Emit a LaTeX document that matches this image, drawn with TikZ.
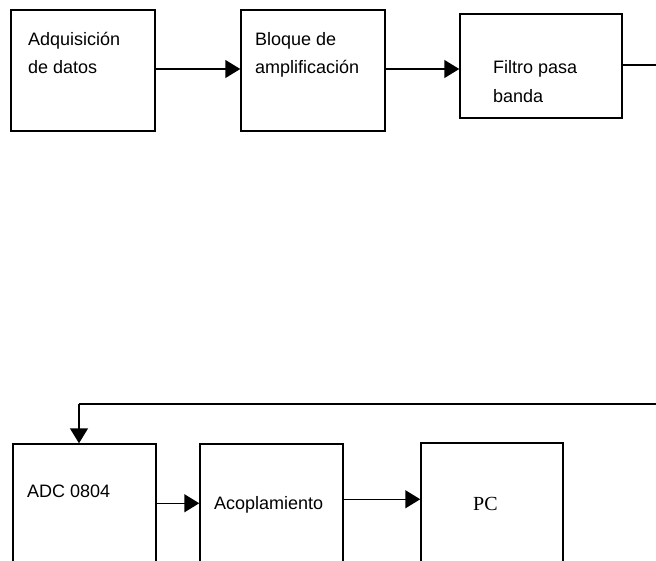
\documentclass[tikz,border=0pt]{standalone}
\usepackage{fontspec}
\setmainfont{Liberation Sans}
\newfontfamily\pcfont{Liberation Serif}
\usetikzlibrary{arrows.meta,calc}
\begin{document}
\begin{tikzpicture}[x=1pt,y=-1pt,
  blk/.style={draw, line width=1.5pt, inner sep=0pt},
  lbl/.style={anchor=base west, inner sep=0pt, font=\fontsize{18}{21}\selectfont},
  arr/.style={line width=1.5pt, -{Triangle[length=15pt,width=18pt]}},
  wire/.style={line width=1.5pt}]
\useasboundingbox (0,0) rectangle (656,560);
\clip (0,0) rectangle (656,560);
% top row
\node[blk, minimum width=144pt, minimum height=121pt] (b1) at (83,70.5) {};
\node[blk, minimum width=144pt, minimum height=121pt] (b2) at (313,70.5) {};
\node[blk, minimum width=162pt, minimum height=104pt] (b3) at (541,66) {};
\node[lbl] (t1a) at (28,45) {Adquisición};
\node[lbl] (t1b) at (28,73) {de datos};
\node[lbl] (t2a) at (255,45) {Bloque de};
\node[lbl] (t2b) at (255,73) {amplificación};
\node[lbl] (t3a) at (493,73) {Filtro pasa};
\node[lbl] (t3b) at (493,102) {banda};
\coordinate (a1) at ($(b1.east)+(0,-1.5)$);
\coordinate (a2) at ($(b2.east)+(0,-1.5)$);
\draw[arr] (a1) -- (a1 -| b2.west);
\draw[arr] (a2) -- (a2 -| b3.west);
\coordinate (outR) at (660,65);
\draw[wire] (b3.east |- outR) -- (outR);
% bottom row
\node[blk, minimum width=143pt, minimum height=156pt] (adc) at (84.5,522) {};
\node[blk, minimum width=143pt, minimum height=156pt] (acp) at (271.5,522) {};
\node[blk, minimum width=142pt, minimum height=157pt] (pc) at (492,521.5) {};
\node[lbl] (t4) at (27,497) {ADC 0804};
\node[lbl] (t5) at (214,509) {Acoplamiento};
\node[lbl, font=\pcfont\fontsize{20}{22}\selectfont] (t6) at (473,510) {PC};
\coordinate (fbR) at (660,404);
\coordinate (fbL) at (79,404);
\draw[wire] (fbR) -- (fbL);
\draw[arr] (fbL) -- (fbL |- adc.north);
\coordinate (a3) at ($(adc.north east)+(0,60)$);
\coordinate (a4) at ($(acp.north east)+(0,56)$);
\draw[arr] (a3) -- (a3 -| acp.west);
\draw[arr] (a4) -- (a4 -| pc.west);
\end{tikzpicture}
\end{document}
